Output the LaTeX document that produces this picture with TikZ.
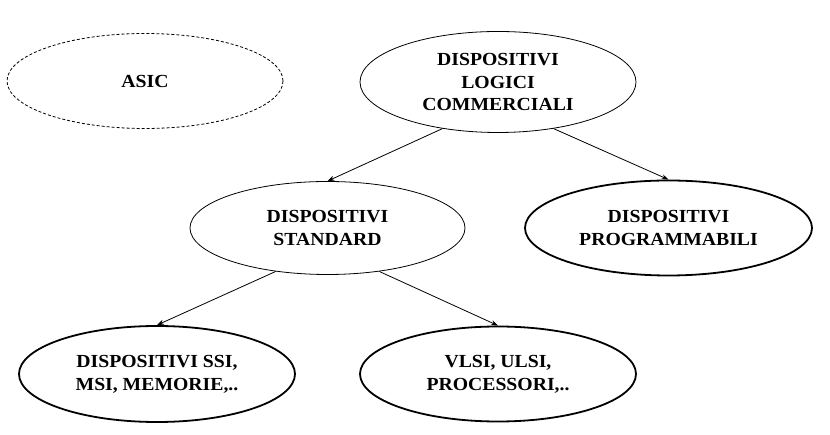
\documentclass[tikz,border=0pt]{standalone}
\usepackage{fontspec}
\setmainfont{Liberation Serif}[FakeStretch=1.07]
\usetikzlibrary{shapes.geometric,arrows.meta}

\begin{document}
\begin{tikzpicture}
[x=1bp,y=1bp,
every node/.style={draw,ellipse,align=center,inner sep=0pt,line width=.8bp,
  font=\fontsize{18.5}{23}\selectfont\bfseries},
thickbox/.style={line width=1.8bp},
dashbox/.style={dash pattern=on 3bp off 2bp},
level distance=146bp,
level 1/.style={sibling distance=341bp},
level 2/.style={sibling distance=341bp},
edge from parent/.style={draw,line width=.8bp,-{Stealth[length=7bp,width=5bp]}},
toleft/.style={edge from parent path={(\tikzparentnode.220) -- (\tikzchildnode.north)}},
toright/.style={edge from parent path={(\tikzparentnode.320) -- (\tikzchildnode.north)}}]
\useasboundingbox (0,0) rectangle (830,435);
\node[dashbox,minimum width=276bp,minimum height=95bp] (asic) at (145,354) {ASIC};
\node[minimum width=276bp,minimum height=101bp] (commerciali) at (498,353) {DISPOSITIVI\\LOGICI\\COMMERCIALI}
child[toleft]{
node[minimum width=275bp,minimum height=93bp] (standard) {DISPOSITIVI\\STANDARD}
child[toleft]{
  node[thickbox,minimum width=276bp,minimum height=96bp] (ssi) {DISPOSITIVI SSI,\\MSI, MEMORIE,..}
}
child[toright]{
  node[thickbox,minimum width=276bp,minimum height=95bp] (vlsi) {VLSI, ULSI,\\PROCESSORI,..}
}
}
child[toright]{
node[thickbox,minimum width=287bp,minimum height=95bp] (programmabili) {DISPOSITIVI\\PROGRAMMABILI}
};
\end{tikzpicture}
\end{document}
